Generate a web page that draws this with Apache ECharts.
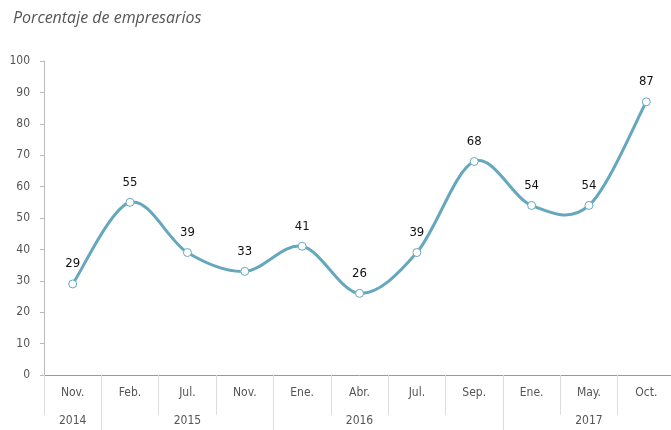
<!DOCTYPE html>
<html><head><meta charset="utf-8">
<script src="https://cdn.jsdelivr.net/npm/echarts@6/dist/echarts.min.js"></script>
<style>html,body{margin:0;padding:0;background:#fff;overflow:hidden}#c{width:676px;height:430px}</style>
</head><body><div id="c"></div>
<script>
const months = ['Nov.','Feb.','Jul.','Nov.','Ene.','Abr.','Jul.','Sep.','Ene.','May.','Oct.'];
const values = [29,55,39,33,41,26,39,68,54,54,87];
const years = ['2014','2015','2016','2017'];
const yearCenters = [0.5,2.5,5.5,9.5];
const yearBounds = [1,4,8];
const yTicks = [0,10,20,30,40,50,60,70,80,90,100];

const FONT = '"DejaVu Sans Condensed","Liberation Sans Narrow","Roboto",sans-serif';
const LINE = '#65a7bd';
const chart = echarts.init(document.getElementById('c'));

function segment(params, api){
  const i = params.dataIndex, n = values.length;
  if (i >= n - 1) return null;
  const P = k => api.coord([Math.max(0, Math.min(n - 1, k)), values[Math.max(0, Math.min(n - 1, k))]]);
  const p0 = P(i - 1), p1 = P(i), p2 = P(i + 1), p3 = P(i + 2);
  return {
    type:'bezierCurve',
    shape:{
      x1:p1[0], y1:p1[1], x2:p2[0], y2:p2[1],
      cpx1:p1[0] + (p2[0] - p0[0]) / 6, cpy1:p1[1] + (p2[1] - p0[1]) / 6,
      cpx2:p2[0] - (p3[0] - p1[0]) / 6, cpy2:p2[1] - (p3[1] - p1[1]) / 6
    },
    style:{fill:null, stroke:LINE, lineWidth:3, lineCap:'round'}
  };
}

chart.setOption({
  animation:false,
  title:{text:'Porcentaje de empresarios',left:8,top:5,
    textStyle:{fontFamily:'"Open Sans",sans-serif',fontStyle:'italic',fontWeight:'normal',fontSize:16,color:'#555'}},
  grid:{left:44,right:1,top:61,bottom:55,containLabel:false},
  xAxis:[{
    type:'category',data:months,boundaryGap:true,position:'bottom',
    axisLine:{lineStyle:{color:'#999',width:1}},
    axisTick:{show:true,interval:0,length:40,lineStyle:{color:'#ddd'}},
    axisLabel:{interval:0,margin:12,fontSize:12,color:'#555',fontFamily:FONT}
  },{
    type:'value',min:0,max:11,position:'bottom',
    axisLine:{show:false},splitLine:{show:false},
    axisTick:{show:true,customValues:yearBounds,length:56,lineStyle:{color:'#ddd'}},
    axisLabel:{customValues:yearCenters,margin:40,fontSize:12,color:'#555',fontFamily:FONT,
      formatter:function(v){const i=yearCenters.indexOf(v);return i>=0?years[i]:'';}}
  }],
  yAxis:{type:'value',min:0,max:100,interval:10,
    axisLine:{show:true,lineStyle:{color:'#bbb'}},
    axisTick:{show:true,length:4,lineStyle:{color:'#bbb'}},
    splitLine:{show:false},
    axisLabel:{margin:14,fontSize:12,color:'#555',fontFamily:FONT,customValues:yTicks}
  },
  series:[{
    type:'custom',xAxisIndex:0,data:values.map((v,i)=>[i,v]),encode:{x:0,y:1},
    renderItem:segment,silent:true,z:1
  },{
    type:'line',data:values,xAxisIndex:0,
    lineStyle:{width:0,opacity:0},
    itemStyle:{color:'#fff',borderColor:LINE,borderWidth:1},
    symbol:'circle',symbolSize:8,showSymbol:true,z:3,
    label:{show:true,position:'top',distance:9,color:'#111',fontSize:13,fontFamily:FONT}
  }]
});
</script></body></html>
